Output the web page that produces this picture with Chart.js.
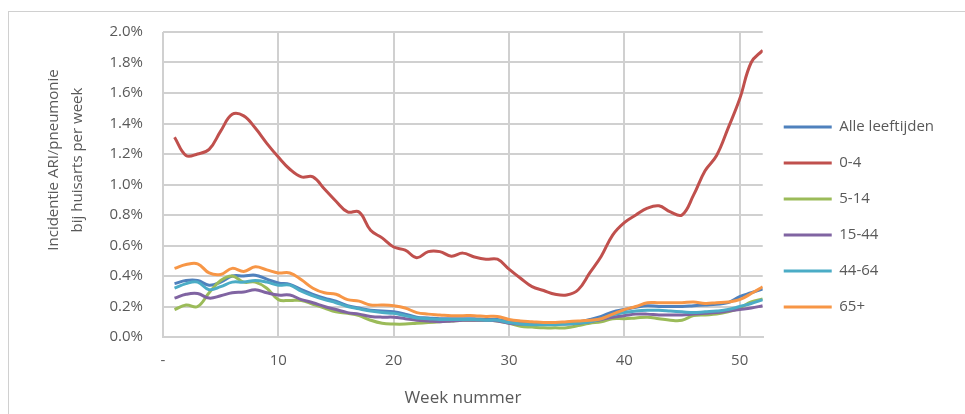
<!DOCTYPE html>
<html>
<head>
<meta charset="utf-8">
<script src="https://cdn.jsdelivr.net/npm/chart.js@4.4.0/dist/chart.umd.min.js"></script>
<style>
  body { margin: 0; background: #fff; }
  #wrap { position: relative; width: 965px; height: 414px; }
  #frame { position: absolute; left: 8px; top: 11px; right: 0; bottom: 0; border-left: 1px solid #d0d0d0; border-top: 1px solid #d0d0d0; }
</style>
</head>
<body>
<div id="wrap">
  <div id="frame"></div>
  <canvas id="chart"></canvas>
</div>
<script>
// incidentie per week, in procent
const weeks = Array.from({ length: 52 }, (_, i) => i + 1);

const alleLeeftijden = [0.35, 0.37, 0.37, 0.34, 0.36, 0.40, 0.40, 0.405, 0.38, 0.355,
  0.345, 0.31, 0.28, 0.255, 0.235, 0.205, 0.19, 0.175, 0.17, 0.165,
  0.15, 0.13, 0.125, 0.12, 0.12, 0.12, 0.12, 0.115, 0.115, 0.10,
  0.09, 0.09, 0.09, 0.09, 0.095, 0.10, 0.115, 0.135, 0.165, 0.18,
  0.195, 0.205, 0.20, 0.20, 0.20, 0.205, 0.21, 0.215, 0.225, 0.265,
  0.29, 0.315];

const leeftijd0_4 = [1.31, 1.19, 1.20, 1.23, 1.35, 1.46, 1.45, 1.37, 1.27, 1.18,
  1.10, 1.05, 1.05, 0.97, 0.89, 0.82, 0.82, 0.70, 0.65, 0.59,
  0.57, 0.52, 0.56, 0.56, 0.53, 0.55, 0.525, 0.51, 0.51, 0.445,
  0.385, 0.33, 0.305, 0.28, 0.275, 0.31, 0.42, 0.53, 0.67, 0.75,
  0.80, 0.845, 0.86, 0.82, 0.80, 0.93, 1.09, 1.19, 1.37, 1.56,
  1.80, 1.88];

const leeftijd5_14 = [0.18, 0.21, 0.20, 0.29, 0.37, 0.40, 0.36, 0.36, 0.32, 0.245,
  0.24, 0.24, 0.215, 0.19, 0.165, 0.155, 0.14, 0.11, 0.09, 0.085,
  0.085, 0.09, 0.095, 0.10, 0.105, 0.11, 0.11, 0.11, 0.105, 0.09,
  0.07, 0.065, 0.06, 0.06, 0.06, 0.075, 0.09, 0.10, 0.12, 0.12,
  0.125, 0.13, 0.12, 0.11, 0.11, 0.14, 0.145, 0.15, 0.165, 0.19,
  0.23, 0.25];

const leeftijd15_44 = [0.255, 0.28, 0.285, 0.255, 0.27, 0.29, 0.295, 0.31, 0.29, 0.275,
  0.275, 0.245, 0.225, 0.20, 0.18, 0.16, 0.15, 0.135, 0.13, 0.13,
  0.12, 0.11, 0.105, 0.10, 0.105, 0.11, 0.11, 0.11, 0.105, 0.09,
  0.085, 0.085, 0.085, 0.085, 0.085, 0.09, 0.10, 0.115, 0.13, 0.14,
  0.15, 0.15, 0.145, 0.145, 0.145, 0.15, 0.155, 0.16, 0.17, 0.18,
  0.19, 0.205];

const leeftijd44_64 = [0.32, 0.35, 0.36, 0.31, 0.33, 0.36, 0.36, 0.37, 0.36, 0.34,
  0.34, 0.30, 0.27, 0.245, 0.225, 0.20, 0.185, 0.17, 0.16, 0.155,
  0.14, 0.125, 0.12, 0.115, 0.115, 0.115, 0.115, 0.11, 0.11, 0.095,
  0.085, 0.08, 0.08, 0.08, 0.085, 0.09, 0.10, 0.12, 0.145, 0.16,
  0.17, 0.175, 0.175, 0.17, 0.165, 0.16, 0.165, 0.17, 0.18, 0.20,
  0.22, 0.245];

const leeftijd65plus = [0.45, 0.475, 0.48, 0.42, 0.41, 0.45, 0.43, 0.46, 0.44, 0.42,
  0.42, 0.375, 0.32, 0.29, 0.28, 0.245, 0.235, 0.21, 0.21, 0.205,
  0.19, 0.16, 0.15, 0.145, 0.14, 0.14, 0.14, 0.135, 0.135, 0.115,
  0.105, 0.10, 0.095, 0.095, 0.10, 0.105, 0.11, 0.12, 0.15, 0.18,
  0.20, 0.225, 0.225, 0.225, 0.225, 0.23, 0.22, 0.225, 0.23, 0.245,
  0.285, 0.33];

const seriesNames = ['Alle leeftijden', '0-4', '5-14', '15-44', '44-64', '65+'];
const seriesData = [alleLeeftijden, leeftijd0_4, leeftijd5_14, leeftijd15_44, leeftijd44_64, leeftijd65plus];
const seriesColors = ['#4f81bd', '#c0504d', '#9bbb59', '#8064a2', '#4bacc6', '#f79646'];

const yTitle = ['Incidentie ARI/pneumonie', 'bij huisarts per week'];
const xTitle = 'Week nummer';

Chart.defaults.font.family = '"Open Sans", sans-serif';
Chart.defaults.font.size = 15;
Chart.defaults.color = '#595959';

// y-as titel, zelf getekend zodat hij op de goede hoogte staat
const yTitlePlugin = {
  id: 'yTitle',
  afterDraw(chart) {
    const ctx = chart.ctx;
    ctx.save();
    ctx.fillStyle = '#595959';
    ctx.font = '15px "Open Sans", sans-serif';
    ctx.textAlign = 'center';
    ctx.textBaseline = 'middle';
    ctx.translate(54, 160);
    ctx.rotate(-Math.PI / 2);
    ctx.fillText(yTitle[0], 0, 0);
    ctx.fillText(yTitle[1], 0, 24);
    ctx.restore();
  }
};

const datasets = seriesNames.map((name, i) => ({
  label: name,
  data: seriesData[i],
  borderColor: seriesColors[i],
  backgroundColor: seriesColors[i],
  borderWidth: 3,
  pointRadius: 0,
  tension: 0.4,
  fill: false,
  order: seriesNames.length - 1 - i
}));

const gridColor = '#d0d0d0';

new Chart(document.getElementById('chart'), {
  type: 'line',
  data: { labels: weeks, datasets: datasets },
  plugins: [yTitlePlugin],
  options: {
    responsive: true,
    maintainAspectRatio: false,
    animation: false,
    layout: { padding: { top: 32, right: 21, bottom: 12, left: 0 } },
    plugins: {
      tooltip: { enabled: false },
      legend: {
        position: 'right',
        labels: {
          usePointStyle: true,
          pointStyle: 'line',
          pointStyleWidth: 48,
          boxWidth: 48,
          padding: 21,
          font: { size: 15 },
          sort: (a, b) => a.datasetIndex - b.datasetIndex
        }
      }
    },
    scales: {
      x: {
        type: 'linear',
        min: 0,
        max: 52,
        afterFit: (scale) => { scale.height = 65; },
        grid: { color: gridColor, lineWidth: 2, drawTicks: false },
        border: { color: gridColor, width: 2 },
        ticks: {
          stepSize: 10,
          includeBounds: false,
          padding: 15,
          maxRotation: 0,
          callback: (v) => v === 0 ? '-' : v
        },
        title: { display: true, text: xTitle, font: { size: 17, lineHeight: 0.5 }, padding: 0 }
      },
      y: {
        min: 0,
        max: 2,
        afterFit: (scale) => { scale.width = 163; },
        grid: { color: gridColor, lineWidth: 2, drawTicks: false },
        border: { display: false },
        ticks: {
          stepSize: 0.2,
          padding: 20,
          callback: (v) => v.toFixed(1) + '%'
        }
      }
    }
  }
});
</script>
</body>
</html>
